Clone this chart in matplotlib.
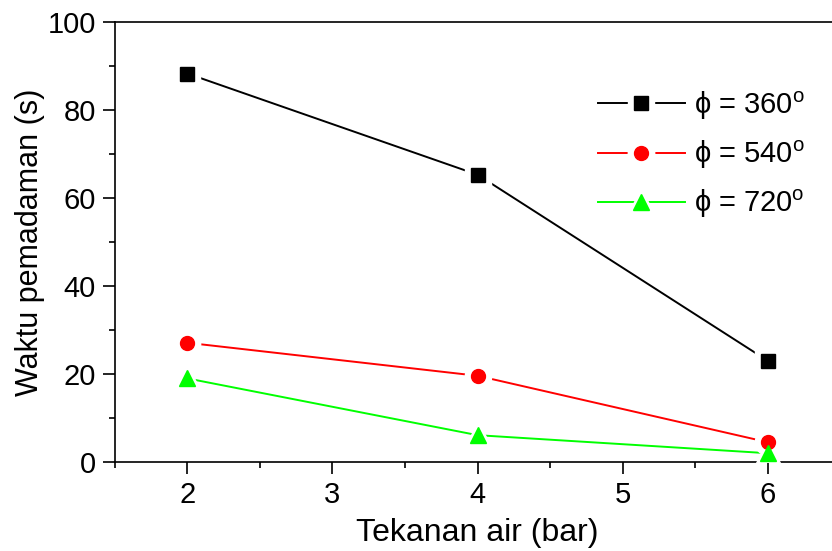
import matplotlib
matplotlib.use("Agg")
import matplotlib.pyplot as plt
from matplotlib.lines import Line2D
from matplotlib.legend_handler import HandlerTuple
from matplotlib.ticker import MultipleLocator

plt.rcParams["font.family"] = ["Liberation Sans", "DejaVu Sans"]
plt.rcParams["mathtext.fontset"] = "custom"
plt.rcParams["mathtext.rm"] = "Liberation Sans"

# data
pressure = [2, 4, 6]
t_360 = [88.3, 65.3, 23.0]
t_540 = [27.1, 19.6, 4.5]
t_720 = [19.0, 6.1, 2.0]

labels = ["ϕ = 360$^{\\mathrm{o}}$", "ϕ = 540$^{\\mathrm{o}}$", "ϕ = 720$^{\\mathrm{o}}$"]
colors = ["black", "#ff0000", "#00ff00"]
markers = ["s", "o", "^"]
series = [t_360, t_540, t_720]

fig = plt.figure(figsize=(8.32, 5.51), dpi=100)
ax = fig.add_axes([0.138, 0.1615, 0.872, 0.7985])

handles = []
for y, c, m in zip(series, colors, markers):
    ms = 11 if m == "^" else 10
    ax.plot(pressure, y, "-", color=c, lw=1.4, zorder=2)
    # white halo so the line stops short of each marker
    ax.plot(pressure, y, m, color="white", ms=ms + 9, mec="white", zorder=3)
    ax.plot(pressure, y, m, color=c, ms=ms, mec=c, zorder=4)
    h = (
        Line2D([], [], color=c, lw=1.4),
        Line2D([], [], marker=m, ls="", color="white", ms=ms + 9),
        Line2D([], [], marker=m, ls="", color=c, ms=ms),
    )
    handles.append(h)

ax.legend(
    handles,
    labels,
    handler_map={tuple: HandlerTuple(ndivide=1, pad=0)},
    loc="upper right",
    bbox_to_anchor=(0.975, 0.887),
    frameon=False,
    fontsize=21,
    handlelength=3.0,
    handletextpad=0.3,
    labelspacing=0.58,
    borderaxespad=0.2,
)

ax.set_xlim(1.5, 6.5)
ax.set_ylim(0, 100)
ax.xaxis.set_major_locator(MultipleLocator(1))
ax.xaxis.set_minor_locator(MultipleLocator(0.5))
ax.yaxis.set_major_locator(MultipleLocator(20))
ax.yaxis.set_minor_locator(MultipleLocator(10))
ax.tick_params(which="major", direction="out", length=8.5, width=1.2, labelsize=21, pad=5)
ax.tick_params(which="minor", direction="out", length=4.3, width=1.2)
for s in ax.spines.values():
    s.set_linewidth(1.2)

ax.set_xlabel("Tekanan air (bar)", fontsize=23, labelpad=7)
ax.set_ylabel("Waktu pemadaman (s)", fontsize=22, labelpad=2)

fig.savefig("out.png", dpi=100, facecolor="white")
